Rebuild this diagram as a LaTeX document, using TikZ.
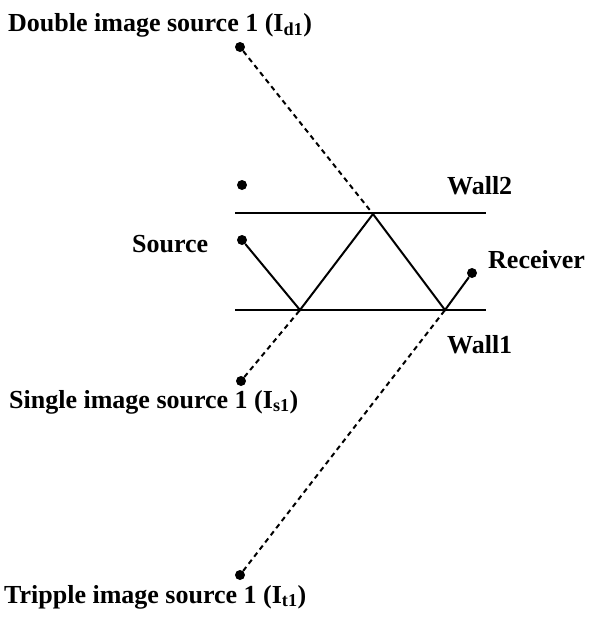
\documentclass[tikz,border=0pt]{standalone}
\usepackage{fontspec}
\setmainfont{Liberation Serif}
\begin{document}
\begin{tikzpicture}[
                x=1pt, y=-1pt,
                every node/.style={font=\bfseries\fontsize{26}{28}\selectfont, inner sep=0pt},
                srcdot/.style={circle, fill, inner sep=0pt, minimum size=10pt},
                wall/.style={line width=2pt},
                ray/.style={line width=2pt},
                imgray/.style={line width=2pt, dash pattern=on 5pt off 4pt}
                ]
                \useasboundingbox (0,0) rectangle (589,622);
                % walls
                \draw[wall] (235,213) -- (486,213);
                \draw[wall] (235,310) -- (486,310);
                \node[anchor=base west] (wall2) at (447,194) {Wall2};
                \node[anchor=base west] (wall1) at (447,353) {Wall1};
                % sources and receiver
                \node[srcdot] (src) at (242,240) {};
                \node[srcdot] (img2) at (242,185) {};
                \node[srcdot] (is1) at (241,381) {};
                \node[srcdot] (id1) at (240,47) {};
                \node[srcdot] (it1) at (240,575) {};
                \node[srcdot] (rec) at (472,273) {};
                \node[anchor=base west] (srclabel) at (132,252) {Source};
                \node[anchor=base west] (reclabel) at (488,268) {Receiver};
                \node[anchor=base west] (id1label) at (8,31) {Double image source 1 (I\textsubscript{d1})};
                \node[anchor=base west] (is1label) at (9,408) {Single image source 1 (I\textsubscript{s1})};
                \node[anchor=base west] (it1label) at (4,603) {Tripple image source 1 (I\textsubscript{t1})};
                % reflection points
                \coordinate (r1) at (300,310);
                \coordinate (r2) at (373,214);
                \coordinate (r3) at (445,310);
                \draw[ray, line join=miter] (src) -- (r1) -- (r2) -- (r3) -- (rec);
                \draw[imgray] (is1) -- (r1);
                \draw[imgray] (id1) -- (r2);
                \draw[imgray] (it1) -- (r3);
            \end{tikzpicture}
\end{document}
